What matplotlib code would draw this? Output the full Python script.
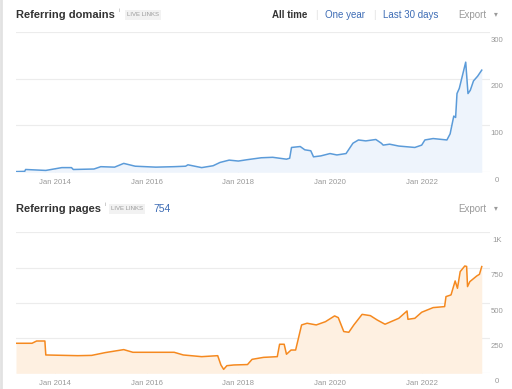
import numpy as np
import matplotlib
matplotlib.use("Agg")
import matplotlib.pyplot as plt
from matplotlib.transforms import blended_transform_factory

# Referring domains (year as decimal, count)
dom_year = [2013.15, 2013.34, 2013.36, 2013.8, 2014.15, 2014.36, 2014.4, 2014.85, 2015.0, 2015.3,
            2015.5, 2015.75, 2016.2, 2016.6, 2016.85, 2016.9, 2017.2, 2017.45, 2017.6, 2017.8,
            2018.0, 2018.2, 2018.5, 2018.75, 2019.05, 2019.12, 2019.16, 2019.35, 2019.45, 2019.58,
            2019.64, 2019.8, 2020.0, 2020.15, 2020.35, 2020.5, 2020.62, 2020.78, 2021.0, 2021.12,
            2021.16, 2021.3, 2021.5, 2021.85, 2022.0, 2022.07, 2022.25, 2022.55, 2022.62, 2022.7,
            2022.74, 2022.77, 2022.82, 2022.9, 2022.96, 2023.01, 2023.06, 2023.13, 2023.22, 2023.31]
dom_val = [1.5, 2, 6, 4, 10, 10, 6, 7, 12, 11,
           19, 13, 11, 12, 13, 16, 10, 14, 21, 26,
           24, 27, 31, 32, 28, 30, 53, 55, 48, 46,
           33, 35, 40, 37, 40, 62, 69, 67, 70, 62,
           58, 60, 56, 53, 58, 69, 72, 69, 82, 120,
           117, 168, 179, 211, 235, 168, 175, 195, 205, 218]

# Referring pages
pg_year = [2013.15, 2013.5, 2013.6, 2013.78, 2013.8, 2014.5, 2014.8, 2015.1, 2015.5, 2015.7,
           2016.6, 2016.8, 2017.2, 2017.55, 2017.62, 2017.68, 2017.75, 2017.9, 2018.2, 2018.3,
           2018.55, 2018.85, 2018.9, 2019.0, 2019.05, 2019.15, 2019.25, 2019.38, 2019.5, 2019.7,
           2019.9, 2020.1, 2020.18, 2020.3, 2020.41, 2020.52, 2020.7, 2020.88, 2021.03, 2021.2,
           2021.5, 2021.68, 2021.7, 2021.85, 2022.0, 2022.25, 2022.5, 2022.53, 2022.64, 2022.73,
           2022.78, 2022.84, 2022.94, 2022.98, 2023.0, 2023.05, 2023.2, 2023.26, 2023.31]
pg_val = [213, 213, 229, 229, 130, 125, 127, 147, 168, 149,
          149, 130, 118, 125, 59, 28, 54, 59, 62, 99,
          113, 118, 206, 206, 135, 165, 165, 343, 355, 343,
          366, 407, 395, 296, 291, 343, 418, 409, 378, 348,
          390, 442, 383, 390, 433, 466, 473, 544, 556, 655,
          603, 721, 761, 758, 615, 650, 690, 702, 757]

x_ticks = [2014, 2016, 2018, 2020, 2022]
x_labels = ["Jan 2014", "Jan 2016", "Jan 2018", "Jan 2020", "Jan 2022"]
dom_ticks = [0, 100, 200, 300]
dom_labels = ["0", "100", "200", "300"]
pg_ticks = [0, 250, 500, 750, 1000]
pg_labels = ["0", "250", "500", "750", "1K"]

FONT = ["Liberation Sans", "DejaVu Sans"]
BLUE = "#5b9bd9"
ORANGE = "#f5891f"
GRID = "#ececec"
LABEL = "#9a9a9a"

plt.rcParams["font.family"] = FONT

W, H = 512, 389
fig = plt.figure(figsize=(W / 100, H / 100), dpi=100)
fig.patch.set_facecolor("white")


def px_axes(x0, y0, x1, y1):
    return fig.add_axes([x0 / W, 1 - y1 / H, (x1 - x0) / W, (y1 - y0) / H])


def draw_panel(ax, xs, ys, color, fill, ticks, labels, ymax):
    ax.fill_between(xs, ys, 0, color=fill, lw=0)
    ax.plot(xs, ys, color=color, lw=1.1, solid_joinstyle="round")
    ax.set_xlim(2013.15, 2023.49)
    ax.set_ylim(0, ymax)
    for s in ax.spines.values():
        s.set_visible(False)
    ax.set_yticks(ticks)
    ax.set_yticklabels([])
    ax.tick_params(axis="y", length=0)
    ax.grid(axis="y", color=GRID, lw=0.8)
    ax.set_axisbelow(True)
    ax.set_xticks(x_ticks)
    ax.set_xticklabels(x_labels, fontsize=5.6, color=LABEL)
    ax.tick_params(axis="x", direction="in", length=3, color="#e4e4e4", pad=4.5)
    tr = blended_transform_factory(ax.transAxes, ax.transData)
    for t, lab in zip(ticks, labels):
        ax.text(1.015, t - ymax * 0.035, lab, transform=tr, fontsize=5.6,
                color=LABEL, ha="center", va="top")


ax1 = px_axes(16, 31.7, 490, 172.3)
draw_panel(ax1, dom_year, dom_val, BLUE, "#eef4fc", dom_ticks, dom_labels, 300)

ax2 = px_axes(16, 232.3, 490, 373.3)
draw_panel(ax2, pg_year, pg_val, ORANGE, "#fef0e1", pg_ticks, pg_labels, 1000)

# left border of the card
fig.add_artist(plt.Line2D([1 / W, 1 / W], [0, 1], color="#e2e2e2", lw=2))


def ftext(x, y, s, **kw):
    fig.text(x / W, 1 - y / H, s, va="center", **kw)


# header of the top panel
ftext(16, 15, "Referring domains", fontsize=8, fontweight="bold", color="#333333")
ftext(118.5, 11, "i", fontsize=4.5, color="#aaaaaa")
ftext(127, 15, "LIVE LINKS", fontsize=4.3, color="#9a9a9a",
      bbox=dict(boxstyle="square,pad=0.35", fc="#f2f2f2", ec="none"))
ftext(272, 15, "All time", fontsize=7, fontweight="bold", color="#333333")
ftext(315, 15, "|", fontsize=7, color="#e0e0e0")
ftext(325, 15, "One year", fontsize=7, color="#3d6cb5")
ftext(373, 15, "|", fontsize=7, color="#e0e0e0")
ftext(383, 15, "Last 30 days", fontsize=7, color="#3d6cb5")
ftext(458, 15, "Export", fontsize=7, color="#9a9a9a")
ftext(494, 15, "\u25be", fontsize=5.5, color="#9a9a9a")

# header of the bottom panel
ftext(16, 209, "Referring pages", fontsize=8, fontweight="bold", color="#333333")
ftext(104.5, 205, "i", fontsize=4.5, color="#aaaaaa")
ftext(111, 209, "LIVE LINKS", fontsize=4.3, color="#9a9a9a",
      bbox=dict(boxstyle="square,pad=0.35", fc="#f2f2f2", ec="none"))
ftext(153, 209, "754", fontsize=7.5, color="#3d6cb5")
ftext(458, 209, "Export", fontsize=7, color="#9a9a9a")
ftext(494, 209, "\u25be", fontsize=5.5, color="#9a9a9a")

fig.savefig("out.png", dpi=100)
